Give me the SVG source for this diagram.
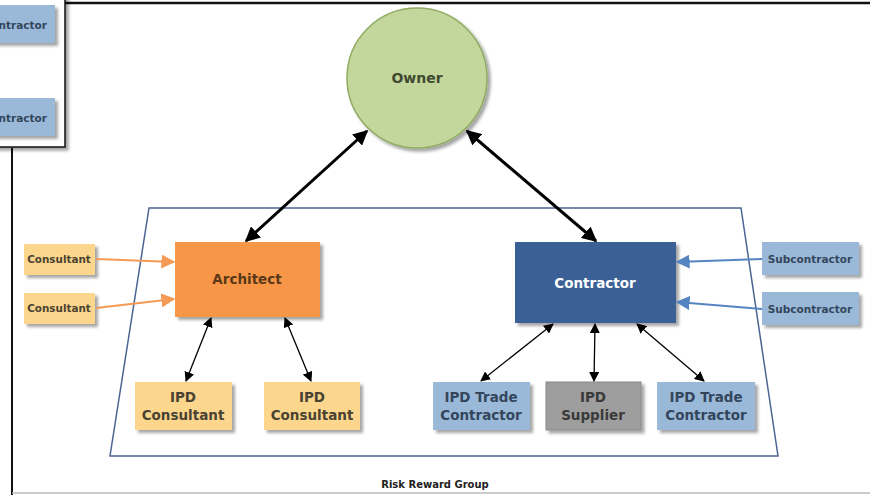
<svg xmlns="http://www.w3.org/2000/svg" width="870" height="495" viewBox="0 0 870 495">
<defs>
<filter id="sh" x="-20%" y="-20%" width="150%" height="150%">
<feDropShadow dx="3" dy="3" stdDeviation="1.8" flood-color="#000" flood-opacity="0.35"/>
</filter>
<marker id="ab" viewBox="0 0 10 10" refX="9" refY="5" markerWidth="10" markerHeight="10" orient="auto-start-reverse" markerUnits="userSpaceOnUse">
<path d="M0,0 L10,5 L0,10 Z" fill="#000"/>
</marker>
<marker id="at" viewBox="0 0 10 10" refX="9" refY="5" markerWidth="15" markerHeight="15" orient="auto-start-reverse" markerUnits="userSpaceOnUse">
<path d="M0,0 L10,5 L0,10 Z" fill="#000"/>
</marker>
<marker id="ao" viewBox="0 0 10 10" refX="9" refY="5" markerWidth="14" markerHeight="14" orient="auto" markerUnits="userSpaceOnUse">
<path d="M0,0 L10,5 L0,10 Z" fill="#f59a55"/>
</marker>
<marker id="abl" viewBox="0 0 10 10" refX="9" refY="5" markerWidth="14" markerHeight="14" orient="auto" markerUnits="userSpaceOnUse">
<path d="M0,0 L10,5 L0,10 Z" fill="#5585c0"/>
</marker>
</defs>
<style>
text{font-family:"DejaVu Sans","Liberation Sans",sans-serif;font-weight:bold;text-anchor:middle}
.lo{fill:#fcd68c}
.lb{fill:#9ab9d8}
.t11{font-size:10.4px;fill:#4a4232}
.t11b{font-size:10.5px;fill:#34465c}
.t13o{font-size:13.5px;fill:#4a4232}
.t13b{font-size:13.5px;fill:#34465c}
</style>
<rect width="870" height="495" fill="#fff"/>
<g id="frame">
<line x1="64" y1="3" x2="870" y2="3" stroke="#111" stroke-width="2.5"/>
<line x1="12" y1="148" x2="12" y2="495" stroke="#111" stroke-width="2"/>
<line x1="12" y1="493" x2="870" y2="493" stroke="#bbb" stroke-width="1.5"/>
</g>
<g id="popup">
<rect x="-5" y="-5" width="70" height="152" fill="#fff" stroke="#111" stroke-width="1.5" filter="url(#sh)"/>
<rect x="-5" y="5" width="60" height="38" class="lb" filter="url(#sh)"/>
<text x="47" y="29" class="t11b" style="text-anchor:end">ntractor</text>
<rect x="-5" y="98" width="60" height="38" class="lb" filter="url(#sh)"/>
<text x="47" y="122" class="t11b" style="text-anchor:end">ntractor</text>
</g>
<g id="group">
<polygon points="149,208 741,208 778,456 110,456" fill="none" stroke="#4a6591" stroke-width="1.5"/>
<text x="435" y="488" style="font-size:10px;fill:#222">Risk Reward Group</text>
</g>
<g id="owner">
<circle cx="417" cy="78" r="70" fill="#c3d69b" stroke="#8fab62" stroke-width="1.5" filter="url(#sh)"/>
<text x="417" y="83" style="font-size:14px;fill:#3f4a30">Owner</text>
</g>
<g id="architect">
<rect x="175" y="242" width="145" height="75" fill="#f79646" filter="url(#sh)"/>
<text x="247" y="284" style="font-size:13.5px;fill:#5a3818">Architect</text>
</g>
<g id="contractor">
<rect x="515" y="242" width="161" height="81" fill="#3a6195" filter="url(#sh)"/>
<text x="595" y="288" style="font-size:13.5px;fill:#fff">Contractor</text>
</g>
<g id="consultant1">
<rect x="24" y="244" width="71" height="31" class="lo" filter="url(#sh)"/>
<text x="59" y="263" class="t11">Consultant</text>
</g>
<g id="consultant2">
<rect x="24" y="293" width="71" height="31" class="lo" filter="url(#sh)"/>
<text x="59" y="312" class="t11">Consultant</text>
</g>
<g id="subcontractor1">
<rect x="762" y="242" width="97" height="33" class="lb" filter="url(#sh)"/>
<text x="810" y="263" class="t11b">Subcontractor</text>
</g>
<g id="subcontractor2">
<rect x="762" y="292" width="97" height="33" class="lb" filter="url(#sh)"/>
<text x="810" y="313" class="t11b">Subcontractor</text>
</g>
<g id="ipdconsultant1">
<rect x="135" y="382" width="97" height="48" class="lo" filter="url(#sh)"/>
<text x="183" y="402" class="t13o">IPD</text>
<text x="183" y="420" class="t13o">Consultant</text>
</g>
<g id="ipdconsultant2">
<rect x="264" y="382" width="96" height="48" class="lo" filter="url(#sh)"/>
<text x="312" y="402" class="t13o">IPD</text>
<text x="312" y="420" class="t13o">Consultant</text>
</g>
<g id="ipdtrade1">
<rect x="433" y="382" width="97" height="48" class="lb" filter="url(#sh)"/>
<text x="481" y="402" class="t13b">IPD Trade</text>
<text x="481" y="420" class="t13b">Contractor</text>
</g>
<g id="ipdsupplier">
<rect x="546" y="382" width="95" height="48" fill="#9e9e9e" stroke="#888" stroke-width="1" filter="url(#sh)"/>
<text x="593" y="402" style="font-size:13.5px;fill:#3a3a3a">IPD</text>
<text x="593" y="420" style="font-size:13.5px;fill:#3a3a3a">Supplier</text>
</g>
<g id="ipdtrade2">
<rect x="657" y="382" width="98" height="48" class="lb" filter="url(#sh)"/>
<text x="706" y="402" class="t13b">IPD Trade</text>
<text x="706" y="420" class="t13b">Contractor</text>
</g>
<g id="connectors">
<line x1="367" y1="131" x2="246" y2="241" stroke="#000" stroke-width="3" marker-start="url(#at)" marker-end="url(#at)"/>
<line x1="467" y1="131" x2="596" y2="241" stroke="#000" stroke-width="3" marker-start="url(#at)" marker-end="url(#at)"/>
<line x1="96" y1="259" x2="174" y2="262" stroke="#f59a55" stroke-width="2" marker-end="url(#ao)"/>
<line x1="96" y1="308" x2="174" y2="299" stroke="#f59a55" stroke-width="2" marker-end="url(#ao)"/>
<line x1="762" y1="259" x2="677" y2="262" stroke="#5585c0" stroke-width="2" marker-end="url(#abl)"/>
<line x1="762" y1="309" x2="677" y2="302" stroke="#5585c0" stroke-width="2" marker-end="url(#abl)"/>
<line x1="211" y1="318" x2="186" y2="381" stroke="#000" stroke-width="1.3" marker-start="url(#ab)" marker-end="url(#ab)"/>
<line x1="285" y1="318" x2="311" y2="381" stroke="#000" stroke-width="1.3" marker-start="url(#ab)" marker-end="url(#ab)"/>
<line x1="553" y1="324" x2="481" y2="381" stroke="#000" stroke-width="1.3" marker-start="url(#ab)" marker-end="url(#ab)"/>
<line x1="595" y1="324" x2="594" y2="381" stroke="#000" stroke-width="1.3" marker-start="url(#ab)" marker-end="url(#ab)"/>
<line x1="637" y1="324" x2="704" y2="381" stroke="#000" stroke-width="1.3" marker-start="url(#ab)" marker-end="url(#ab)"/>
</g>
</svg>
